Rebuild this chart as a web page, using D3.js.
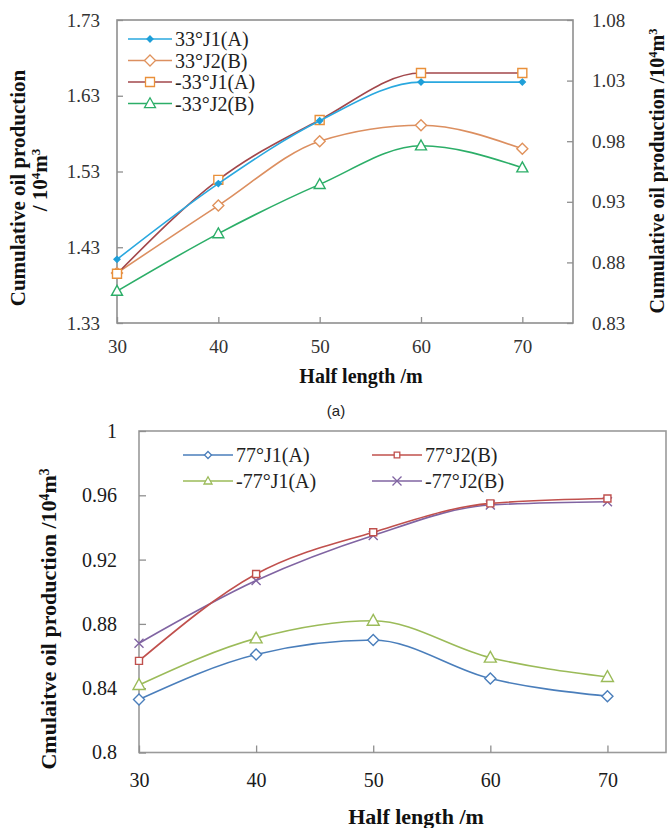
<!DOCTYPE html>
<html>
<head>
<meta charset="utf-8">
<script src="https://cdn.jsdelivr.net/npm/d3@7"></script>
<style>
  html, body { margin: 0; padding: 0; background: #fff; }
  svg { display: block; }
  text.serif { font-family: "Liberation Serif", "Times New Roman", serif; }
  text.sans { font-family: "Liberation Sans", Arial, sans-serif; }
</style>
</head>
<body>
<svg id="chart" width="668" height="828"></svg>
<script>
// ---- data ----
const halfLength = [30, 40, 50, 60, 70];

// (a) ±33° fractures, cumulative oil production (10^4 m^3)
const topNames = ["33°J1(A)", "33°J2(B)", "-33°J1(A)", "-33°J2(B)"];
const top33J1A = [1.414, 1.514, 1.597, 1.648, 1.648];
const top33J2B = [1.396, 1.485, 1.570, 1.591, 1.560];
const topNeg33J1A = [1.395, 1.519, 1.598, 1.660, 1.660];
const topNeg33J2B = [1.372, 1.448, 1.513, 1.564, 1.535];
const topLeftTicks = [1.33, 1.43, 1.53, 1.63, 1.73];
const topRightTicks = [0.83, 0.88, 0.93, 0.98, 1.03, 1.08];

// (b) ±77° fractures
const botNames = ["77°J1(A)", "77°J2(B)", "-77°J1(A)", "-77°J2(B)"];
const bot77J1A = [0.833, 0.861, 0.870, 0.846, 0.835];
const bot77J2B = [0.857, 0.911, 0.937, 0.955, 0.958];
const botNeg77J1A = [0.842, 0.871, 0.882, 0.859, 0.847];
const botNeg77J2B = [0.868, 0.907, 0.935, 0.954, 0.956];
const botTicks = [0.8, 0.84, 0.88, 0.92, 0.96, 1.0];

// ---- marker shapes (r = half-width) ----
const shapes = {
  diamond: r => `M0,${-r}L${r},0L0,${r}L${-r},0Z`,
  square: r => `M${-r},${-r}H${r}V${r}H${-r}Z`,
  triangle: r => `M0,${-r * 1.05}L${r},${r * 0.75}L${-r},${r * 0.75}Z`,
  cross: r => `M${-r},${-r}L${r},${r}M${-r},${r}L${r},${-r}`
};

const svg = d3.select("#chart");
const line = (x, y) => d3.line().x((d, i) => x(halfLength[i])).y(d => y(d)).curve(d3.curveMonotoneX);

function drawSeries(g, x, y, s) {
  g.append("path").datum(s.values)
    .attr("d", line(x, y))
    .attr("fill", "none").attr("stroke", s.line).attr("stroke-width", s.lw || 1.6);
  g.selectAll(null).data(s.values).enter().append("path")
    .attr("transform", (d, i) => `translate(${x(halfLength[i])},${y(d)})`)
    .attr("d", shapes[s.shape](s.r))
    .attr("fill", s.fill).attr("stroke", s.mark).attr("stroke-width", 1.4);
}

function legendItem(g, s, lx, ly, len, size) {
  g.append("line").attr("x1", lx).attr("x2", lx + len).attr("y1", ly).attr("y2", ly)
    .attr("stroke", s.line).attr("stroke-width", 1.6);
  g.append("path").attr("transform", `translate(${lx + len / 2},${ly})`)
    .attr("d", shapes[s.shape](s.legendR || s.r))
    .attr("fill", s.fill).attr("stroke", s.mark).attr("stroke-width", 1.3);
  g.append("text").attr("class", "serif").attr("x", lx + len + 3).attr("y", ly).attr("dy", "0.35em")
    .attr("font-size", size).attr("fill", "#222").text(s.name);
}

function styleAxis(g, color, labelColor, size) {
  g.select(".domain").remove();
  g.selectAll(".tick line").attr("stroke", color).attr("stroke-width", 1.3);
  g.selectAll(".tick text").attr("class", "serif").attr("fill", labelColor).attr("font-size", size);
}

function rotatedTitle(g, cx, cy, parts, size) {
  const t = g.append("text").attr("class", "serif")
    .attr("transform", `translate(${cx},${cy}) rotate(-90)`)
    .attr("text-anchor", "middle").attr("dy", "0.35em")
    .attr("font-size", size).attr("font-weight", "bold").attr("fill", "#111");
  parts.forEach(p => {
    const ts = t.append("tspan").text(p.t);
    if (p.sup) ts.attr("baseline-shift", "super").attr("font-size", "62%");
  });
}

const fmt = v => String(+v.toFixed(2));

// ================= (a) =================
{
  const g = svg.append("g");
  const x = d3.scaleLinear().domain([30, 75]).range([117, 573]);
  const yL = d3.scaleLinear().domain([1.33, 1.73]).range([323, 20]);
  const yR = d3.scaleLinear().domain([0.83, 1.08]).range([323, 20]);

  g.append("rect").attr("x", 117).attr("y", 20).attr("width", 456).attr("height", 303)
    .attr("fill", "none").attr("stroke", "#8f8f8f").attr("stroke-width", 1.6);

  const ax = g.append("g").attr("transform", "translate(0,323)")
    .call(d3.axisBottom(x).tickValues(halfLength).tickSize(-6).tickPadding(17).tickFormat(d3.format("d")));
  styleAxis(ax, "#8f8f8f", "#333", 19);
  const al = g.append("g").attr("transform", "translate(117,0)")
    .call(d3.axisLeft(yL).tickValues(topLeftTicks).tickSize(-6).tickPadding(17).tickFormat(d3.format(".2f")));
  styleAxis(al, "#8f8f8f", "#333", 19);
  const ar = g.append("g").attr("transform", "translate(573,0)")
    .call(d3.axisRight(yR).tickValues(topRightTicks).tickSize(-6).tickPadding(19).tickFormat(d3.format(".2f")));
  styleAxis(ar, "#8f8f8f", "#333", 19);

  const series = [
    { name: topNames[0], values: top33J1A, line: "#2aa8df", mark: "#1f9fd8", fill: "#1f9fd8", shape: "diamond", r: 3 },
    { name: topNames[1], values: top33J2B, line: "#dc8f60", mark: "#e0925c", fill: "#fff", shape: "diamond", r: 5.5 },
    { name: topNames[2], values: topNeg33J1A, line: "#a2474b", mark: "#e9903a", fill: "#fff", shape: "square", r: 4.5 },
    { name: topNames[3], values: topNeg33J2B, line: "#2cae68", mark: "#2cae68", fill: "#fff", shape: "triangle", r: 5.5 }
  ];
  // draw order keeps the dark red curve under the cyan one
  [series[3], series[1], series[2], series[0]].forEach(s => drawSeries(g, x, yL, s));

  const lg = g.append("g");
  series.forEach((s, i) => legendItem(lg, s, 128, 39 + i * 21.5, 44, 20));

  g.append("text").attr("class", "serif").attr("x", 361).attr("y", 376).attr("dy", "0.35em").attr("text-anchor", "middle")
    .attr("font-size", 20).attr("font-weight", "bold").attr("fill", "#111").text("Half length /m");

  rotatedTitle(g, 18, 188, [{ t: "Cumulative oil production" }], 21);
  rotatedTitle(g, 40, 180, [{ t: "/ 10" }, { t: "4", sup: true }, { t: "m" }, { t: "3", sup: true }], 21);
  rotatedTitle(g, 657, 171, [{ t: "Cumulative oil production /10" }, { t: "4", sup: true }, { t: "m" }, { t: "3", sup: true }], 20);

  svg.append("text").attr("class", "sans").attr("x", 336).attr("y", 411).attr("dy", "0.35em").attr("text-anchor", "middle")
    .attr("font-size", 15).attr("fill", "#222").text("(a)");
}

// ================= (b) =================
{
  const g = svg.append("g");
  const x = d3.scaleLinear().domain([30, 75]).range([139, 666]);
  const y = d3.scaleLinear().domain([0.8, 1.0]).range([752.5, 431]);

  g.append("rect").attr("x", 139).attr("y", 431).attr("width", 527).attr("height", 321.5)
    .attr("fill", "none").attr("stroke", "#9a9a9a").attr("stroke-width", 1.6);

  const ax = g.append("g").attr("transform", "translate(0,752.5)")
    .call(d3.axisBottom(x).tickValues(halfLength).tickSize(-7).tickPadding(20).tickFormat(d3.format("d")));
  styleAxis(ax, "#8f8f8f", "#1a1a1a", 20);
  const al = g.append("g").attr("transform", "translate(139,0)")
    .call(d3.axisLeft(y).tickValues(botTicks).tickSize(-7).tickPadding(22).tickFormat(fmt));
  styleAxis(al, "#8f8f8f", "#1a1a1a", 20);

  const series = [
    { name: botNames[0], values: bot77J1A, line: "#4a7ebb", mark: "#4a7ebb", fill: "#fff", shape: "diamond", r: 5.5, legendR: 3.5 },
    { name: botNames[1], values: bot77J2B, line: "#c0504d", mark: "#c0504d", fill: "#fff", shape: "square", r: 3.5, legendR: 2.8 },
    { name: botNames[2], values: botNeg77J1A, line: "#9bbb59", mark: "#9bbb59", fill: "#fff", shape: "triangle", r: 6, legendR: 4 },
    { name: botNames[3], values: botNeg77J2B, line: "#8064a2", mark: "#8064a2", fill: "none", shape: "cross", r: 4.5, legendR: 4.5 }
  ];
  [series[0], series[2], series[3], series[1]].forEach(s => drawSeries(g, x, y, s));

  const lg = g.append("g");
  legendItem(lg, series[0], 183, 455, 50, 20);
  legendItem(lg, series[2], 183, 481, 50, 20);
  legendItem(lg, series[1], 372, 455, 50, 20);
  legendItem(lg, series[3], 372, 481, 50, 20);

  g.append("text").attr("class", "serif").attr("x", 416).attr("y", 816).attr("dy", "0.35em").attr("text-anchor", "middle")
    .attr("font-size", 22).attr("font-weight", "bold").attr("fill", "#111").text("Half length /m");

  rotatedTitle(g, 48, 619, [{ t: "Cmulaitve oil production /10" }, { t: "4", sup: true }, { t: "m" }, { t: "3", sup: true }], 22);
}
</script>
</body>
</html>
